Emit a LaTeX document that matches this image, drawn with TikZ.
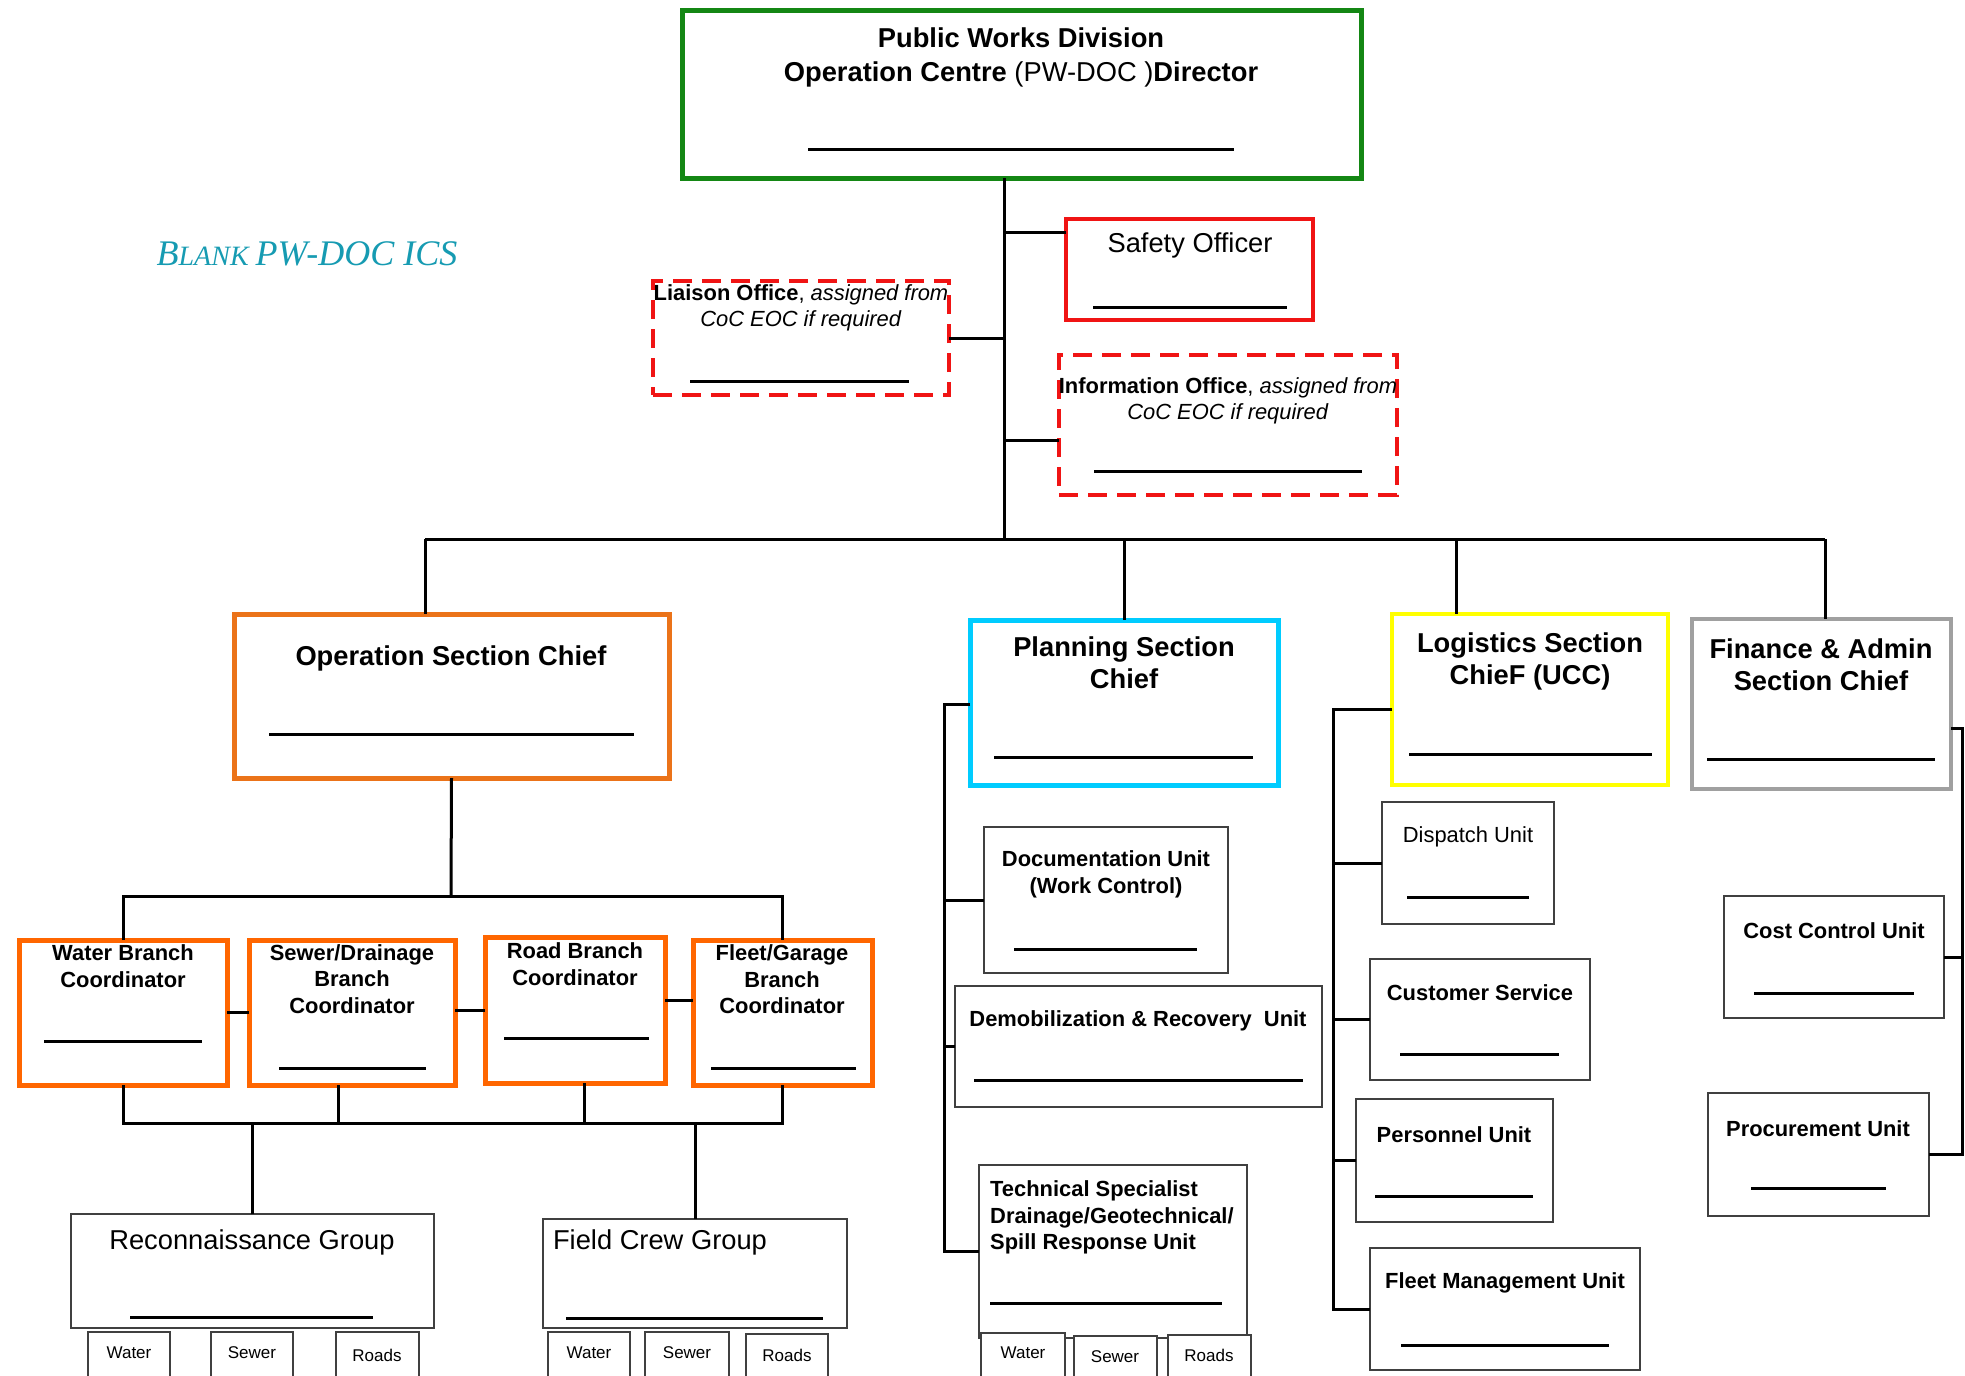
\documentclass[tikz,border=0pt]{standalone}
\usepackage{fontspec}
\setmainfont{Liberation Sans}
\newfontfamily\serifit{Liberation Serif}
\usetikzlibrary{calc}
\definecolor{pwgreen}{RGB}{20,135,20}
\definecolor{pworange}{RGB}{235,115,25}
\definecolor{brorange}{RGB}{255,102,0}
\definecolor{pwcyan}{RGB}{0,204,255}
\definecolor{pwyellow}{RGB}{255,255,0}
\definecolor{pwgrey}{RGB}{160,160,160}
\definecolor{pwred}{RGB}{240,20,20}
\definecolor{pwteal}{RGB}{22,155,178}
\newcommand\szA{\fontsize{27.3}{32}\selectfont}
\newcommand\szT{\fontsize{27.3}{34}\selectfont}
\newcommand\szB{\fontsize{21.9}{26.5}\selectfont}
\newcommand\szC{\fontsize{17}{20}\selectfont}
\newcommand\mkbox[6][]{\node[#1, minimum width={(#5-#3)*1pt}, minimum height={(#6-#4)*1pt}, inner sep=0pt, outer sep=0pt] (#2) at ({(#3+#5)/2},{(#4+#6)/2}) {};}
\newcommand\sigline[3]{\draw[sigl] (#2,#1) -- (#3,#1);}
\tikzset{
  thinbox/.style={draw=black!75, line width=1.5pt, fill=white},
  greenbox/.style={draw=pwgreen, line width=5pt},
  redbox/.style={draw=pwred, line width=3.5pt},
  dashbox/.style={draw=pwred, line width=3.5pt, dash pattern=on 19pt off 10pt},
  opsbox/.style={draw=pworange, line width=5pt},
  brbox/.style={draw=brorange, line width=5pt},
  cyanbox/.style={draw=pwcyan, line width=5pt},
  yellowbox/.style={draw=pwyellow, line width=3.5pt},
  greybox/.style={draw=pwgrey, line width=4pt},
  conn/.style={draw=black, line width=3pt},
  sigl/.style={draw=black, line width=3pt},
  txt/.style={inner sep=0pt, align=center, text=black},
  txtT/.style={txt, font=\szT},
  txtA/.style={txt, font=\szA},
  txtB/.style={txt, font=\szB},
  txtC/.style={txt, font=\szC},
}
\begin{document}
\begin{tikzpicture}[x=1pt, y=-1pt]
\useasboundingbox (0,0) rectangle (1965,1376);
\fill[white] (0,0) rectangle (1965,1376);
\clip (0,0) rectangle (1965,1376);

% title
\node[inner sep=0pt, text=pwteal] (title) at (307,254) {\serifit\itshape\fontsize{36}{40}\selectfont B\fontsize{28}{30}\selectfont LANK \fontsize{36}{40}\selectfont PW-DOC ICS};

% top
\mkbox[greenbox]{dir}{682}{10}{1361}{178}
\node[txtT] (tdir) at (1021,57) {\textbf{Public Works Division}\\\textbf{Operation Centre }(PW-DOC )\textbf{Director}};
\sigline{149}{808}{1234}

\mkbox[redbox]{safety}{1066}{219}{1313}{320}
\node[txtA] (tsafety) at (1190,245) {Safety Officer};
\sigline{307}{1093}{1287}

\mkbox[dashbox]{liaison}{653}{281}{949}{395}
\node[txtB] (tliaison) at (801,308) {\textbf{Liaison Office}, \textit{assigned from}\\\textit{CoC EOC if required}};
\sigline{381}{690}{909}

\mkbox[dashbox]{info}{1059}{355}{1397}{495}
\node[txtB] (tinfo) at (1228,401) {\textbf{Information Office}, \textit{assigned from}\\\textit{CoC EOC if required}};
\sigline{471}{1094}{1362}

% trunk
\coordinate (bus) at (1004,539);
\coordinate (bOps) at (425,539);
\coordinate (bLog) at (1456,539);
\coordinate (bFin) at (1825,539);
\draw[conn] (dir.south -| bus) -- (bus);
\coordinate (sfC) at ([yshift=37.5pt]safety.west);
\draw[conn] (sfC -| bus) -- (sfC);
\draw[conn] (liaison.east) -- (liaison.east -| bus);
\coordinate (inC) at ([yshift=-15pt]info.west);
\draw[conn] (inC -| bus) -- (inC);
\draw[conn] (bOps) -- (bFin);

% section chiefs
\mkbox[opsbox]{ops}{234}{614}{669}{778}
\node[txtA] (tops) at (451,658) {\textbf{Operation Section Chief}};
\sigline{734}{269}{634}

\mkbox[cyanbox]{plan}{970}{620}{1278}{785}
\node[txtA] (tplan) at (1124,663) {\textbf{Planning Section}\\\textbf{Chief}};
\sigline{757}{994}{1253}

\mkbox[yellowbox]{log}{1392}{614}{1668}{785}
\node[txtA] (tlog) at (1530,661.5) {\textbf{Logistics Section}\\\textbf{ChieF (UCC)}};
\sigline{754}{1409}{1652}

\mkbox[greybox]{fin}{1692}{619}{1951}{789}
\node[txtA] (tfin) at (1821,665) {\textbf{Finance \& Admin}\\\textbf{Section Chief}};
\sigline{759}{1707}{1935}

\draw[conn] (bOps) -- (bOps |- ops.north);
\draw[conn] (plan.north |- bus) -- (plan.north);
\draw[conn] (bLog) -- (bLog |- log.north);
\draw[conn] (bFin) -- (bFin |- fin.north);

% operations branches
\mkbox[brbox]{water}{19}{940}{227}{1085}
\node[txtB] (twater) at (123,966) {\textbf{Water Branch}\\\textbf{Coordinator}};
\sigline{1041}{44}{202}
\mkbox[brbox]{sewer}{249}{940}{455}{1085}
\node[txtB] (tsewer) at (352,979) {\textbf{Sewer/Drainage}\\\textbf{Branch}\\\textbf{Coordinator}};
\sigline{1068}{279}{426}
\mkbox[brbox]{road}{485}{937}{665}{1083}
\node[txtB] (troad) at (575,964) {\textbf{Road Branch}\\\textbf{Coordinator}};
\sigline{1038}{504}{649}
\mkbox[brbox]{fleet}{693}{940}{872}{1085}
\node[txtB] (tfleet) at (782,979.5) {\textbf{Fleet/Garage}\\\textbf{Branch}\\\textbf{Coordinator}};
\sigline{1068}{711}{856}

\coordinate (brbus) at (451,896);
\draw[conn] (ops.south) -- (brbus);
\draw[conn] (water.north) -- (water.north |- brbus) -- (fleet.north |- brbus) -- (fleet.north);
\draw[conn] (water.east) -- (sewer.west);
\draw[conn] (road.west) -- (road.west -| sewer.east);
\coordinate (rfC) at ([yshift=10pt]road.east);
\draw[conn] (rfC) -- (rfC -| fleet.west);

% groups
\mkbox[thinbox]{recon}{71}{1214}{434}{1328}
\node[txtA] (trecon) at (252,1242) {Reconnaissance Group};
\sigline{1317}{130}{373}
\mkbox[thinbox]{field}{543}{1219}{847}{1328}
\node[txtA] (tfield) at (660,1242) {Field Crew Group};
\sigline{1318}{566}{823}

\coordinate (lowbus) at (253,1123);
\coordinate (sewB) at ([xshift=-14pt]sewer.south);
\coordinate (roadB) at ([xshift=9pt]road.south);
\draw[conn] (water.south) -- (water.south |- lowbus) -- (fleet.south |- lowbus) -- (fleet.south);
\draw[conn] (sewB) -- (sewB |- lowbus);
\draw[conn] (roadB) -- (roadB |- lowbus);
\draw[conn] (recon.north) -- (recon.north |- lowbus);
\draw[conn] (field.north) -- (field.north |- lowbus);

\mkbox[thinbox]{rw}{88}{1332}{170}{1390}
\mkbox[thinbox]{rs}{211}{1332}{293}{1390}
\mkbox[thinbox]{rr}{336}{1332}{419}{1390}
\node[txtC] at (129,1353) {Water};
\node[txtC] at (252,1353) {Sewer};
\node[txtC] at (377,1355) {Roads};
\mkbox[thinbox]{fw}{548}{1332}{630}{1390}
\mkbox[thinbox]{fs}{645}{1332}{729}{1390}
\mkbox[thinbox]{fr}{746}{1334}{828}{1390}
\node[txtC] at (589,1353) {Water};
\node[txtC] at (687,1353) {Sewer};
\node[txtC] at (787,1355) {Roads};

% planning units
\mkbox[thinbox]{doc}{984}{827}{1228}{973}
\node[txtB] (tdoc) at (1106,874.5) {\textbf{Documentation Unit}\\\textbf{(Work Control)}};
\sigline{949}{1014}{1197}
\mkbox[thinbox]{demob}{955}{986}{1322}{1107}
\node[txtB] (tdemob) at (1138,1021) {\textbf{Demobilization \& Recovery\ \ Unit}};
\sigline{1080}{974}{1303}
\mkbox[thinbox]{tech}{979}{1165}{1247}{1338}
\node[txtB, align=left, anchor=west] (ttech) at (990,1217.5) {\textbf{Technical Specialist}\\\textbf{Drainage/Geotechnical/}\\\textbf{Spill Response Unit}};
\sigline{1303}{990}{1222}
\mkbox[thinbox]{tw}{981}{1333}{1065}{1390}
\mkbox[thinbox]{ts}{1074}{1336}{1157}{1390}
\mkbox[thinbox]{tr}{1168}{1335}{1251}{1390}
\node[txtC] at (1023,1353) {Water};
\node[txtC] at (1115,1357) {Sewer};
\node[txtC] at (1209,1355) {Roads};

\coordinate (pspine) at (944,704);
\draw[conn] (plan.west |- pspine) -- (pspine) |- (tech.west);
\draw[conn] (doc.west -| pspine) -- (doc.west);
\draw[conn] (demob.west -| pspine) -- (demob.west);

% logistics units
\mkbox[thinbox]{disp}{1382}{802}{1554}{924}
\node[txtB] (tdisp) at (1468,837) {Dispatch Unit};
\sigline{897}{1407}{1529}
\mkbox[thinbox]{cust}{1370}{959}{1590}{1080}
\node[txtB] (tcust) at (1480,993) {\textbf{Customer Service}};
\sigline{1054}{1400}{1559}
\mkbox[thinbox]{pers}{1356}{1099}{1553}{1222}
\node[txtB] (tpers) at (1454,1135) {\textbf{Personnel Unit}};
\sigline{1196}{1375}{1533}
\mkbox[thinbox]{fleetm}{1370}{1248}{1640}{1370}
\node[txtB] (tfleetm) at (1505,1283) {\textbf{Fleet Management Unit}};
\sigline{1345}{1401}{1609}

\coordinate (lspine) at (1333,709);
\draw[conn] (lspine -| log.west) -- (lspine) |- (fleetm.west);
\draw[conn] (disp.west -| lspine) -- (disp.west);
\draw[conn] (cust.west -| lspine) -- (cust.west);
\draw[conn] (pers.west -| lspine) -- (pers.west);

% finance units
\mkbox[thinbox]{cost}{1724}{896}{1944}{1018}
\node[txtB] (tcost) at (1834,930.5) {\textbf{Cost Control Unit}};
\sigline{993}{1754}{1914}
\mkbox[thinbox]{proc}{1708}{1093}{1929}{1216}
\node[txtB] (tproc) at (1818,1128.5) {\textbf{Procurement Unit}};
\sigline{1188}{1751}{1886}

\coordinate (fspine) at (1962,728);
\draw[conn] (fspine -| fin.east) -- (fspine) |- (proc.east);
\draw[conn] (cost.east) -- (cost.east -| fspine);
\end{tikzpicture}
\end{document}
